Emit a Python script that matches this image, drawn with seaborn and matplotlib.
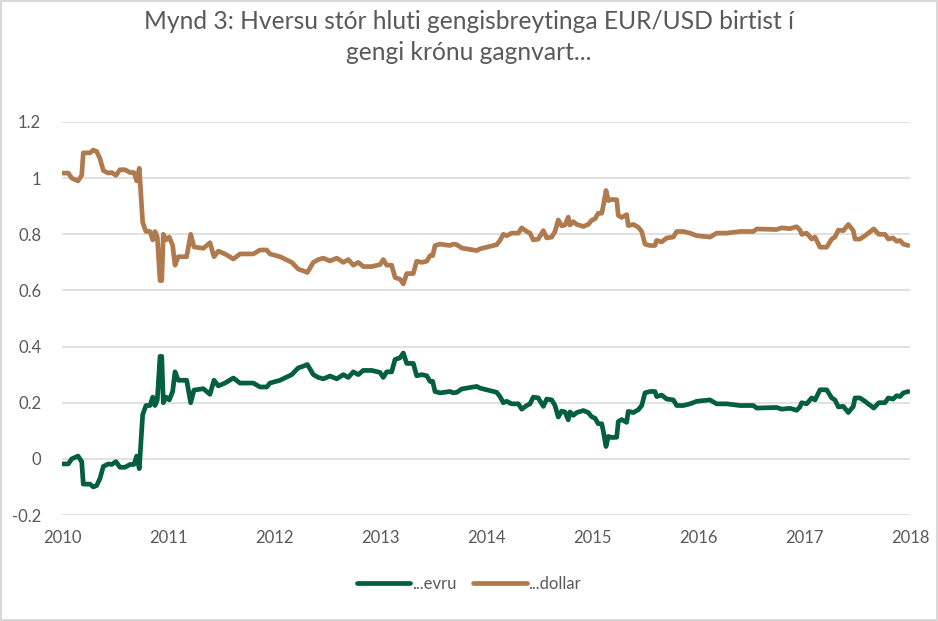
import pandas as pd
import matplotlib.pyplot as plt
import seaborn as sns
from matplotlib.ticker import FuncFormatter

# dates as fractional years
dates = [
    2010.007, 2010.059, 2010.092, 2010.151, 2010.186, 2010.201, 2010.264, 2010.295, 2010.327, 2010.358,
    2010.390, 2010.437, 2010.469, 2010.509, 2010.547, 2010.594, 2010.642, 2010.679, 2010.705, 2010.729,
    2010.761, 2010.792, 2010.830, 2010.856, 2010.877, 2010.899, 2010.925, 2010.941, 2010.956, 2010.981,
    2011.012, 2011.044, 2011.066, 2011.097, 2011.176, 2011.214, 2011.245, 2011.333, 2011.396, 2011.434,
    2011.475, 2011.538, 2011.616, 2011.679, 2011.805, 2011.868, 2011.931, 2011.962, 2012.057, 2012.167,
    2012.229, 2012.276, 2012.314, 2012.340, 2012.371, 2012.418, 2012.465, 2012.528, 2012.592, 2012.654,
    2012.701, 2012.748, 2012.795, 2012.842, 2012.922, 2013.000, 2013.031, 2013.063, 2013.110, 2013.142,
    2013.189, 2013.220, 2013.252, 2013.314, 2013.346, 2013.393, 2013.441, 2013.472, 2013.497, 2013.519,
    2013.566, 2013.660, 2013.692, 2013.724, 2013.771, 2013.818, 2013.912, 2013.943, 2014.006, 2014.101,
    2014.132, 2014.163, 2014.195, 2014.242, 2014.305, 2014.337, 2014.384, 2014.415, 2014.446, 2014.493,
    2014.541, 2014.573, 2014.620, 2014.651, 2014.682, 2014.714, 2014.745, 2014.776, 2014.792, 2014.824,
    2014.856, 2014.918, 2014.965, 2014.997, 2015.028, 2015.059, 2015.092, 2015.107, 2015.132, 2015.154,
    2015.186, 2015.233, 2015.248, 2015.280, 2015.327, 2015.342, 2015.390, 2015.437, 2015.469, 2015.500,
    2015.547, 2015.594, 2015.610, 2015.658, 2015.705, 2015.767, 2015.799, 2015.861, 2015.925, 2015.988,
    2016.113, 2016.176, 2016.271, 2016.396, 2016.522, 2016.554, 2016.742, 2016.790, 2016.868, 2016.931,
    2016.962, 2016.978, 2017.025, 2017.073, 2017.104, 2017.151, 2017.214, 2017.261, 2017.292, 2017.324,
    2017.371, 2017.418, 2017.465, 2017.481, 2017.528, 2017.575, 2017.658, 2017.706, 2017.764, 2017.795,
    2017.840, 2017.874, 2017.906, 2017.937, 2017.984,
]

evru = [
    -0.018, -0.018, 0.000, 0.010, -0.010, -0.090, -0.090, -0.100, -0.095, -0.070,
    -0.027, -0.018, -0.020, -0.010, -0.030, -0.030, -0.020, -0.020, 0.010, -0.035,
    0.157, 0.190, 0.190, 0.220, 0.190, 0.210, 0.365, 0.365, 0.200, 0.220,
    0.210, 0.240, 0.310, 0.280, 0.280, 0.200, 0.245, 0.250, 0.230, 0.280,
    0.260, 0.270, 0.288, 0.270, 0.270, 0.256, 0.256, 0.270, 0.280, 0.300,
    0.324, 0.330, 0.336, 0.320, 0.300, 0.290, 0.285, 0.295, 0.285, 0.300,
    0.290, 0.310, 0.300, 0.315, 0.315, 0.308, 0.290, 0.310, 0.310, 0.354,
    0.360, 0.377, 0.340, 0.340, 0.296, 0.300, 0.296, 0.276, 0.276, 0.240,
    0.235, 0.240, 0.235, 0.237, 0.249, 0.252, 0.258, 0.252, 0.246, 0.237,
    0.222, 0.200, 0.205, 0.196, 0.196, 0.177, 0.190, 0.196, 0.220, 0.217,
    0.187, 0.213, 0.210, 0.190, 0.149, 0.170, 0.167, 0.139, 0.167, 0.155,
    0.165, 0.172, 0.165, 0.150, 0.145, 0.125, 0.125, 0.098, 0.044, 0.080,
    0.076, 0.077, 0.133, 0.140, 0.130, 0.169, 0.165, 0.175, 0.190, 0.235,
    0.240, 0.240, 0.222, 0.227, 0.213, 0.210, 0.190, 0.190, 0.196, 0.205,
    0.210, 0.196, 0.196, 0.190, 0.190, 0.181, 0.183, 0.177, 0.180, 0.173,
    0.185, 0.200, 0.196, 0.217, 0.210, 0.246, 0.246, 0.217, 0.210, 0.185,
    0.187, 0.165, 0.187, 0.217, 0.217, 0.205, 0.181, 0.200, 0.200, 0.217,
    0.213, 0.225, 0.222, 0.235, 0.240,
]

dollar = [
    1.018, 1.018, 1.000, 0.990, 1.010, 1.090, 1.090, 1.100, 1.095, 1.070,
    1.027, 1.018, 1.020, 1.010, 1.030, 1.030, 1.020, 1.020, 0.990, 1.035,
    0.843, 0.810, 0.810, 0.780, 0.810, 0.790, 0.635, 0.635, 0.800, 0.780,
    0.790, 0.760, 0.690, 0.720, 0.720, 0.800, 0.755, 0.750, 0.770, 0.720,
    0.740, 0.730, 0.712, 0.730, 0.730, 0.744, 0.744, 0.730, 0.720, 0.700,
    0.676, 0.670, 0.664, 0.680, 0.700, 0.710, 0.715, 0.705, 0.715, 0.700,
    0.710, 0.690, 0.700, 0.685, 0.685, 0.692, 0.710, 0.690, 0.690, 0.646,
    0.640, 0.623, 0.660, 0.660, 0.704, 0.700, 0.704, 0.724, 0.724, 0.760,
    0.765, 0.760, 0.765, 0.763, 0.751, 0.748, 0.742, 0.748, 0.754, 0.763,
    0.778, 0.800, 0.795, 0.804, 0.804, 0.823, 0.810, 0.804, 0.780, 0.783,
    0.813, 0.787, 0.790, 0.810, 0.851, 0.830, 0.833, 0.861, 0.833, 0.845,
    0.835, 0.828, 0.835, 0.850, 0.855, 0.875, 0.875, 0.902, 0.956, 0.920,
    0.924, 0.923, 0.867, 0.860, 0.870, 0.831, 0.835, 0.825, 0.810, 0.765,
    0.760, 0.760, 0.778, 0.773, 0.787, 0.790, 0.810, 0.810, 0.804, 0.795,
    0.790, 0.804, 0.804, 0.810, 0.810, 0.819, 0.817, 0.823, 0.820, 0.827,
    0.815, 0.800, 0.804, 0.783, 0.790, 0.754, 0.754, 0.783, 0.790, 0.815,
    0.813, 0.835, 0.813, 0.783, 0.783, 0.795, 0.819, 0.800, 0.800, 0.783,
    0.787, 0.775, 0.778, 0.765, 0.760,
]

series_names = ["...evru", "...dollar"]
colors = ["#045E40", "#B07A4F"]
title = "Mynd 3: Hversu stór hluti gengisbreytinga EUR/USD birtist í\ngengi krónu gagnvart..."
year_ticks = list(range(2010, 2019))
value_ticks = [-0.2, 0, 0.2, 0.4, 0.6, 0.8, 1, 1.2]

df = pd.concat([
    pd.DataFrame({"date": dates, "value": evru, "series": series_names[0]}),
    pd.DataFrame({"date": dates, "value": dollar, "series": series_names[1]}),
])

sns.set_theme(style="white")
plt.rcParams["font.family"] = ["Lato", "DejaVu Sans"]
plt.rcParams["axes.unicode_minus"] = False

fig = plt.figure(figsize=(9.38, 6.21), dpi=100, edgecolor="#D9D9D9", linewidth=1.5)
ax = fig.add_axes([62 / 938, 1 - 515 / 621, (910 - 62) / 938, (515 - 122) / 621])

sns.lineplot(data=df, x="date", y="value", hue="series", hue_order=series_names,
             palette=dict(zip(series_names, colors)), linewidth=3.4, ax=ax, sort=False)

ax.set_xlim(2010, 2018)
ax.set_ylim(-0.2, 1.2)
ax.set_xticks(year_ticks)
ax.set_yticks(value_ticks)
ax.yaxis.set_major_formatter(FuncFormatter(lambda v, p: f"{v:g}"))
ax.set_xlabel("")
ax.set_ylabel("")
ax.grid(axis="y", color="#D9D9D9", linewidth=1.1)
ax.set_axisbelow(True)
for s in ax.spines.values():
    s.set_visible(False)
ax.tick_params(axis="both", labelsize=12, labelcolor="#595959", length=0)
ax.tick_params(axis="y", pad=15)
ax.tick_params(axis="x", pad=11)

fig.text(0.5, 1 - 10 / 621, title, ha="center", va="top", fontsize=17.7,
         color="#595959", linespacing=1.4)

sns.move_legend(ax, "center", bbox_to_anchor=(0.5, 1 - 584 / 621),
                bbox_transform=fig.transFigure, ncol=2, frameon=False, title=None,
                fontsize=12, handlelength=3.2, columnspacing=1.0, handletextpad=0.1)
for t in ax.get_legend().get_texts():
    t.set_color("#595959")

fig.savefig("out.png", dpi=100)
